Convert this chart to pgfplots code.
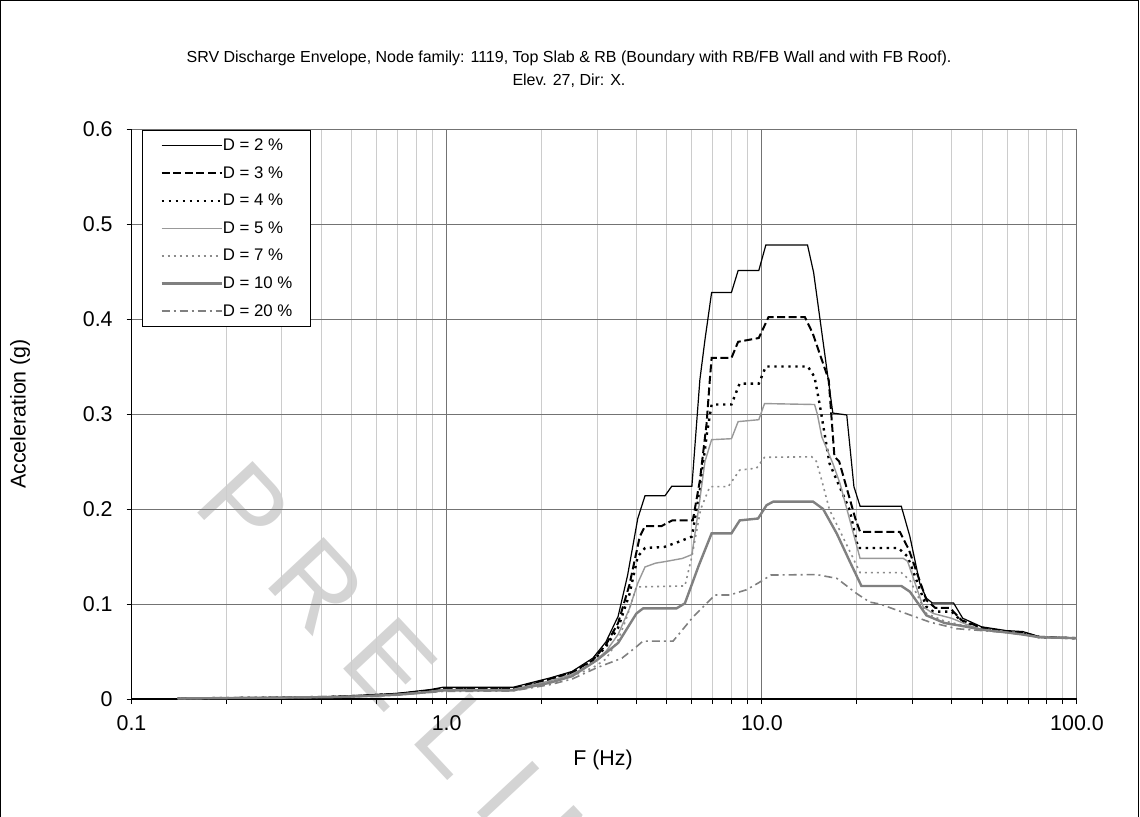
\documentclass[border=0pt]{standalone}
\usepackage{fontspec}
\setmainfont{Liberation Sans}
\usepackage{pgfplots}
\usepackage{pgfplotstable}
\pgfplotsset{compat=1.18}

\pgfplotstableread{
f a
0.14 0.0005
0.2 0.001
0.3 0.0015
0.43 0.0025
0.55 0.004
0.7 0.006
0.89 0.010
0.97 0.0123
1.62 0.0123
2.12 0.022
2.5 0.029
2.91 0.043
3.2 0.060
3.5 0.087
3.75 0.13
4.04 0.19
4.26 0.214
4.93 0.214
5.18 0.224
6.0 0.224
6.36 0.336
6.6 0.378
6.93 0.428
8.01 0.428
8.41 0.451
9.78 0.451
10.3 0.478
13.96 0.478
14.6 0.449
16.8 0.301
18.6 0.299
19.6 0.2235
20.5 0.203
27.7 0.203
29.5 0.171
31.7 0.122
33.3 0.106
34.8 0.101
40.6 0.101
43.4 0.085
49.8 0.076
59.7 0.072
67.3 0.071
76.2 0.0655
100 0.064
}\dtwo

\pgfplotstableread{
f a
0.14 0.0005
0.2 0.001
0.3 0.0015
0.43 0.0023
0.55 0.0037
0.7 0.0055
0.89 0.009
0.97 0.011
1.62 0.011
2.12 0.021
2.5 0.028
2.91 0.041
3.2 0.057
3.5 0.08
3.8 0.12
4.1 0.171
4.26 0.182
4.8 0.182
5.2 0.188
6.04 0.188
6.36 0.23
6.68 0.29
6.84 0.336
6.93 0.359
8.01 0.359
8.41 0.376
9.78 0.38
10.5 0.402
13.7 0.402
14.5 0.385
16.3 0.336
17.0 0.255
17.6 0.25
19.8 0.19
20.5 0.176
27.4 0.176
29.3 0.157
33.3 0.104
35.5 0.096
39.5 0.096
43 0.083
50 0.075
60 0.071
67 0.070
76 0.0655
100 0.064
}\dthree

\pgfplotstableread{
f a
0.14 0.0005
0.2 0.001
0.3 0.0015
0.43 0.0022
0.55 0.0035
0.7 0.0052
0.89 0.0085
0.97 0.0105
1.62 0.0105
2.12 0.020
2.5 0.027
2.91 0.040
3.2 0.055
3.5 0.075
3.8 0.11
4.04 0.15
4.26 0.159
4.9 0.160
5.5 0.166
6.0 0.171
6.36 0.22
6.7 0.28
6.93 0.31
8.01 0.31
8.5 0.332
9.78 0.332
10.3 0.35
14.0 0.35
14.7 0.339
15.3 0.308
16.4 0.248
19.0 0.199
20.2 0.159
27.1 0.159
29.0 0.15
33.3 0.097
35 0.092
40 0.092
43 0.082
50 0.074
60 0.071
67 0.069
76 0.065
100 0.064
}\dfour

\pgfplotstableread{
f a
0.14 0.0005
0.2 0.001
0.3 0.0015
0.43 0.0021
0.55 0.0033
0.7 0.005
0.89 0.008
0.97 0.0100
1.62 0.0100
2.12 0.019
2.5 0.026
2.91 0.038
3.2 0.050
3.5 0.068
3.8 0.095
4.04 0.122
4.26 0.139
4.6 0.143
5.0 0.145
5.6 0.148
6.0 0.152
6.3 0.20
6.6 0.25
6.93 0.273
8.01 0.274
8.41 0.292
9.78 0.294
10.2 0.311
14.7 0.31
15.0 0.30
15.5 0.276
16.8 0.248
17.7 0.227
20.5 0.148
28.1 0.148
29.0 0.145
32.5 0.097
35 0.09
40 0.085
45 0.078
50 0.073
60 0.07
67 0.068
76 0.065
100 0.064
}\dfive

\pgfplotstableread{
f a
0.14 0.0005
0.2 0.001
0.3 0.0015
0.43 0.002
0.55 0.0031
0.7 0.0047
0.89 0.0077
0.97 0.0095
1.62 0.0095
2.12 0.018
2.5 0.024
2.91 0.033
3.2 0.042
3.5 0.062
3.72 0.085
4.0 0.118
5.7 0.119
6.0 0.15
6.4 0.20
6.84 0.2235
7.82 0.2235
8.51 0.241
9.62 0.243
10.2 0.2544
14.4 0.255
14.9 0.25
15.5 0.23
16.4 0.199
17.46 0.181
20.5 0.133
27.7 0.133
29.5 0.125
33.3 0.09
38 0.082
43 0.078
50 0.073
60 0.07
67 0.068
76 0.065
100 0.064
}\dseven

\pgfplotstableread{
f a
0.14 0.0005
0.2 0.001
0.3 0.0015
0.43 0.002
0.55 0.003
0.7 0.0045
0.89 0.0075
0.97 0.009
1.62 0.009
2.12 0.017
2.5 0.024
3.0 0.041
3.5 0.059
4.0 0.09
4.2 0.0954
5.36 0.0954
5.7 0.1007
6.3 0.14
6.93 0.1744
8.01 0.1744
8.51 0.188
9.73 0.19
10.35 0.204
10.86 0.2077
14.55 0.2077
15.65 0.20
17.3 0.174
19 0.145
20.7 0.119
27.7 0.119
29.5 0.113
33.3 0.088
38 0.08
43 0.077
50 0.073
60 0.07
67 0.068
76 0.065
100 0.064
}\dten

\pgfplotstableread{
f a
0.14 0.0005
0.2 0.001
0.3 0.0015
0.43 0.002
0.55 0.003
0.7 0.0043
0.89 0.007
0.97 0.008
1.62 0.0085
2.12 0.015
2.5 0.021
3.0 0.033
3.6 0.043
4.0 0.055
4.2 0.061
5.23 0.061
6.06 0.0866
7.1 0.1095
7.92 0.1095
8.94 0.115
9.73 0.122
10.7 0.1305
14.9 0.131
17.3 0.127
20 0.111
22 0.102
23.7 0.1
29.8 0.088
34.1 0.081
41.5 0.074
50 0.072
60 0.07
67 0.068
76 0.065
100 0.064
}\dtwenty

\begin{document}
\begin{tikzpicture}[x=1pt,y=1pt]
% watermark
\node[anchor=base west, rotate=-47, text=black!17, font=\fontsize{55}{55}\selectfont, inner sep=0pt] at (29.75,96.5) {P R E L I M I N A R Y};
\begin{axis}[
  name=ax, at={(0,0)}, anchor=south west,
  scale only axis, width=472.75pt, height=285pt,
  xmode=log, log basis x=10,
  xmin=0.1, xmax=100, ymin=0, ymax=0.6,
  xtick={0.1,1,10,100}, xticklabels={0.1,1.0,10.0,100.0},
  minor xtick={0.2,0.3,0.4,0.5,0.6,0.7,0.8,0.9,2,3,4,5,6,7,8,9,20,30,40,50,60,70,80,90},
  ytick={0,0.1,0.2,0.3,0.4,0.5,0.6}, yticklabels={0,0.1,0.2,0.3,0.4,0.5,0.6},
  grid=both,
  major grid style={black!55, line width=0.5pt},
  minor grid style={black!20, line width=0.5pt},
  axis lines*=left,
  axis line style={black, line width=0.8pt},
  tick align=outside, tick pos=left,
  major tick length=2.5pt, minor tick length=2.5pt,
  tick style={black, line width=0.5pt},
  tick label style={font=\fontsize{10.7}{12}\selectfont, /pgf/number format/assume math mode=true},
  xticklabel style={anchor=north, inner sep=0pt, yshift=-5.5pt},
  yticklabel style={anchor=east, inner sep=0pt, xshift=-6.75pt},
  xlabel={F (Hz)}, ylabel={Acceleration (g)},
  label style={font=\fontsize{10.7}{12}\selectfont},
  xlabel style={at={(axis description cs:0.4987,-0.107)}, anchor=center},
  ylabel style={at={(axis description cs:-0.1179,0.5)}, anchor=center},
  title={SRV Discharge Envelope, Node family: 1119, Top Slab \& RB (Boundary with RB/FB Wall and with FB Roof).\\Elev. 27, Dir: X.},
  title style={at={(axis description cs:0.4627,1.0833)}, anchor=center, align=center, font=\fontsize{8}{11.5}\selectfont},
  legend cell align=left,
  legend image code/.code={\draw[#1] (0pt,0pt) -- (30pt,0pt);},
  legend style={at={(axis description cs:0.0111,0.9982)}, anchor=north west,
    draw=black, line width=0.5pt, fill=white,
    font=\fontsize{8.4}{10}\selectfont,
    inner xsep=9pt, inner ysep=3.5pt, row sep=5.8pt,
    nodes={inner sep=0pt, text height=6.5pt, text depth=1.5pt},
    /tikz/every even column/.append style={column sep=2.5pt}},
]
\addplot[black, line width=0.6pt] table {\dtwo};
\addlegendentry{D = 2 \%}
\addplot[black, line width=1pt, dash pattern=on 4pt off 1.8pt] table {\dthree};
\addlegendentry{D = 3 \%}
\addplot[black, line width=1.2pt, dash pattern=on 1.2pt off 2.3pt] table {\dfour};
\addlegendentry{D = 4 \%}
\addplot[black!40, line width=0.7pt] table {\dfive};
\addlegendentry{D = 5 \%}
\addplot[black!45, line width=0.8pt, dash pattern=on 1pt off 2pt] table {\dseven};
\addlegendentry{D = 7 \%}
\addplot[black!50, line width=1.2pt] table {\dten};
\addlegendentry{D = 10 \%}
\addplot[black!50, line width=0.8pt, dash pattern=on 4pt off 2pt on 1pt off 2pt] table {\dtwenty};
\addlegendentry{D = 20 \%}
\end{axis}
\pgfresetboundingbox
\useasboundingbox (-65.75,-58.5) rectangle (504.25,349.5);
\draw[line width=0.5pt] (-65.25,-70) -- (-65.25,349) -- (503.25,349) -- (503.25,-70);
\end{tikzpicture}
\end{document}
